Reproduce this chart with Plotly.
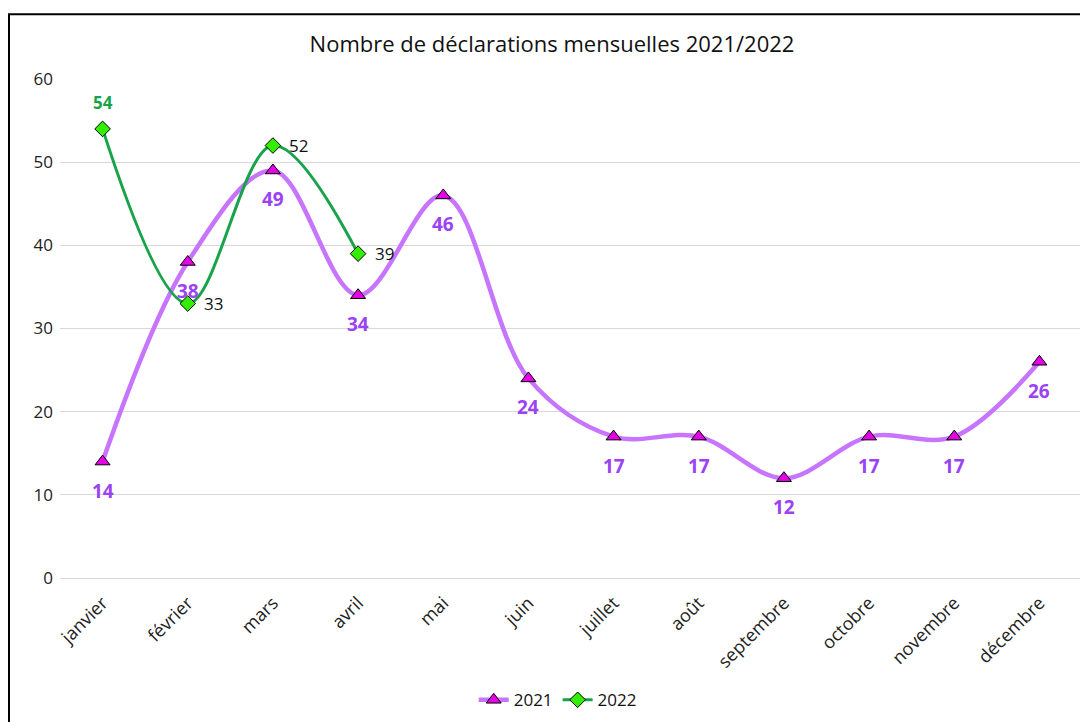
import plotly.graph_objects as go

months = ["janvier", "février", "mars", "avril", "mai", "juin", "juillet",
          "août", "septembre", "octobre", "novembre", "décembre"]
values_2021 = [14, 38, 49, 34, 46, 24, 17, 17, 12, 17, 17, 26]
values_2022 = [54, 33, 52, 39]
y_ticks = [0, 10, 20, 30, 40, 50, 60]
title_text = "Nombre de déclarations mensuelles 2021/2022"

FONT = "Open Sans"
PURPLE_TXT = "#9b42f5"
GREEN_TXT = "#16a34a"

fig = go.Figure()

fig.add_trace(go.Scatter(
    x=months, y=values_2021, name="2021",
    mode="lines+markers",
    line=dict(color="#c774ff", width=4.5, shape="spline", smoothing=1.0),
    marker=dict(symbol="triangle-up", size=13, color="#e600e6",
                line=dict(color="#000000", width=1)),
))

fig.add_trace(go.Scatter(
    x=months[:len(values_2022)], y=values_2022, name="2022",
    mode="lines+markers",
    line=dict(color="#17a34a", width=3, shape="spline", smoothing=1.0),
    marker=dict(symbol="diamond", size=12, color="#33ee00",
                line=dict(color="#000000", width=1)),
))

annotations = []
for m, v in zip(months, values_2021):
    annotations.append(dict(x=m, y=v, xref="x", yref="y", text="<b>%d</b>" % v,
                            showarrow=False, yshift=-29,
                            font=dict(family=FONT, size=19, color=PURPLE_TXT)))
for i, (m, v) in enumerate(zip(months, values_2022)):
    if i == 0:
        annotations.append(dict(x=m, y=v, xref="x", yref="y", text="<b>%d</b>" % v,
                                showarrow=False, yshift=26,
                                font=dict(family=FONT, size=17, color=GREEN_TXT)))
    else:
        annotations.append(dict(x=m, y=v, xref="x", yref="y", text="%d" % v,
                                showarrow=False, xshift=26,
                                font=dict(family=FONT, size=17, color="#111111")))

fig.update_layout(
    width=1088, height=722,
    margin=dict(l=52, r=14, t=71, b=152),
    paper_bgcolor="white", plot_bgcolor="white",
    title=dict(text=title_text, x=0.50, xanchor="center", y=0.95, yanchor="middle",
               font=dict(family=FONT, size=22, color="#111111")),
    font=dict(family=FONT, color="#222222"),
    showlegend=True,
    legend=dict(orientation="h", x=0.487, xanchor="center", y=-0.245, yanchor="middle",
                font=dict(family=FONT, size=17, color="#111111"), itemwidth=30),
    xaxis=dict(type="category", showgrid=False, showline=False, ticks="",
               tickangle=-45, tickfont=dict(family=FONT, size=18, color="#222222"),
               ticklabelstandoff=10, range=[-0.5, 11.5]),
    yaxis=dict(range=[0, 60], tickvals=y_ticks, showgrid=True, gridcolor="#d9d9d9",
               gridwidth=1, zeroline=True, zerolinecolor="#d9d9d9", zerolinewidth=1,
               showline=False, ticks="", ticklen=0, ticklabelstandoff=6,
               tickfont=dict(family=FONT, size=17, color="#222222")),
    annotations=annotations,
    shapes=[dict(type="rect", xref="paper", yref="paper",
                 x0=-0.0499, x1=1.03, y0=-0.45, y1=1.13,
                 line=dict(color="#000000", width=2), fillcolor="rgba(0,0,0,0)",
                 layer="above")],
)

fig.write_html("out.html")
